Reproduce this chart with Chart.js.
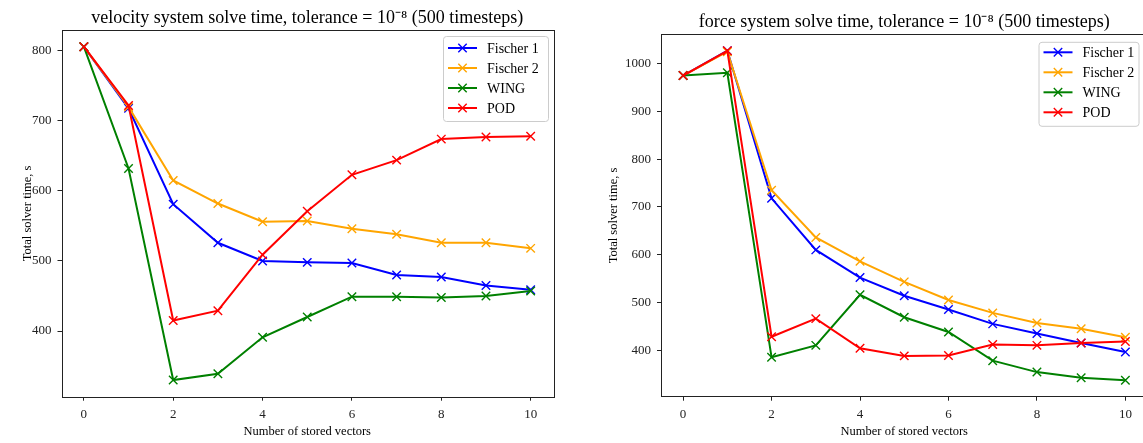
<!DOCTYPE html>
<html>
<head>
<meta charset="utf-8">
<script src="https://cdn.jsdelivr.net/npm/chart.js@4.4.1/dist/chart.umd.min.js"></script>
<style>
    html, body { margin: 0; padding: 0; background: #fff; overflow: hidden; }
    body { width: 1143px; height: 443px; position: relative; }
    .panel { position: absolute; top: 0; }
    #velPanel { left: 0; }
    #forcePanel { left: 580px; }
</style>
</head>
<body>
<div class="panel" id="velPanel"><canvas id="velChart" width="570" height="443"></canvas></div>
<div class="panel" id="forcePanel"><canvas id="forceChart" width="580" height="443"></canvas></div>

<script>
const steps = [0, 1, 2, 3, 4, 5, 6, 7, 8, 9, 10];
const seriesNames = ['Fischer 1', 'Fischer 2', 'WING', 'POD'];

// velocity system, seconds
const velFischer1 = [806, 718, 581, 526, 500, 498, 497, 480, 477, 465, 459];
const velFischer2 = [806, 720, 615, 582, 556, 557, 546, 538, 526, 526, 518];
const velWing = [806, 632, 330, 339, 391, 420, 449, 449, 448, 450, 457];
const velPod = [806, 722, 415, 429, 509, 571, 623, 644, 674, 677, 678];

// force system, seconds
const forceFischer1 = [975, 1027, 718, 610, 552, 514, 485, 455, 435, 415, 396];
const forceFischer2 = [975, 1025, 735, 636, 586, 543, 505, 478, 457, 445, 427];
const forceWing = [975, 981, 385, 410, 516, 469, 438, 378, 354, 342, 337];
const forcePod = [975, 1027, 428, 466, 404, 388, 389, 412, 410, 415, 418];

const xTicks = [0, 2, 4, 6, 8, 10];
const velYTicks = [400, 500, 600, 700, 800];
const forceYTicks = [400, 500, 600, 700, 800, 900, 1000];

const colors = ['#0000ff', '#ffa500', '#008000', '#ff0000'];
const serif = '"Liberation Serif", "Times New Roman", serif';

const toPoints = (ys) => steps.map((x, i) => ({ x: x, y: ys[i] }));

// matplotlib style 5% margin around the data
const padRange = (lists) => {
    const all = lists.flat();
    const lo = Math.min(...all);
    const hi = Math.max(...all);
    const m = (hi - lo) * 0.05;
    return [lo - m, hi + m];
};

// full axes box
const frame = {
    id: 'frame',
    afterDatasetsDraw(chart) {
        const { ctx, chartArea: a } = chart;
        ctx.save();
        ctx.strokeStyle = '#222';
        ctx.lineWidth = 1;
        ctx.strokeRect(Math.round(a.left) + 0.5, Math.round(a.top) + 0.5,
            Math.round(a.right - a.left), Math.round(a.bottom - a.top));
        ctx.restore();
    }
};

// title centred over the axes rather than the canvas
const axesTitle = {
    id: 'axesTitle',
    afterDraw(chart, args, opts) {
        const { ctx, chartArea: a } = chart;
        ctx.save();
        ctx.fillStyle = '#000';
        ctx.font = '18px ' + serif;
        ctx.textAlign = 'center';
        ctx.textBaseline = 'alphabetic';
        ctx.fillText(opts.text, (a.left + a.right) / 2, opts.baseline);
        ctx.restore();
    }
};

// legend drawn inside the axes, upper right
const innerLegend = {
    id: 'innerLegend',
    afterDraw(chart, args, opts) {
        const { ctx, chartArea: a } = chart;
        const x0 = a.right - opts.right - opts.width;
        const y0 = a.top + opts.top;
        ctx.save();
        ctx.beginPath();
        ctx.roundRect(x0 + 0.5, y0 + 0.5, opts.width, opts.height, 3);
        ctx.fillStyle = 'rgba(255,255,255,0.8)';
        ctx.fill();
        ctx.strokeStyle = '#cccccc';
        ctx.lineWidth = 1;
        ctx.stroke();

        chart.data.datasets.forEach((ds, i) => {
            const y = y0 + opts.first + i * opts.gap;
            ctx.strokeStyle = ds.borderColor;
            ctx.lineWidth = 2;
            ctx.beginPath();
            ctx.moveTo(x0 + 5, y);
            ctx.lineTo(x0 + 34, y);
            ctx.stroke();
            const cx = x0 + 19.5;
            const r = 4.2;
            ctx.lineWidth = 1.4;
            ctx.beginPath();
            ctx.moveTo(cx - r, y - r);
            ctx.lineTo(cx + r, y + r);
            ctx.moveTo(cx - r, y + r);
            ctx.lineTo(cx + r, y - r);
            ctx.stroke();
            ctx.fillStyle = '#000';
            ctx.font = '14px ' + serif;
            ctx.textBaseline = 'middle';
            ctx.fillText(ds.label, x0 + 44, y + 1);
        });
        ctx.restore();
    }
};

const makeChart = (canvasId, cfg) => {
    const [yMin, yMax] = padRange(cfg.series);
    const datasets = cfg.series.map((ys, i) => ({
        label: seriesNames[i],
        data: toPoints(ys),
        borderColor: colors[i],
        backgroundColor: colors[i],
        borderWidth: 2,
        pointStyle: 'crossRot',
        pointRadius: 6,
        pointHoverRadius: 6,
        pointBorderWidth: 1.4,
        tension: 0,
        order: cfg.series.length - i
    }));

    return new Chart(document.getElementById(canvasId), {
        type: 'line',
        data: { datasets: datasets },
        options: {
            responsive: false,
            animation: false,
            events: [],
            layout: { padding: { left: 0, right: cfg.padRight, top: cfg.padTop, bottom: 0 } },
            plugins: {
                legend: { display: false },
                tooltip: { enabled: false },
                title: { display: false },
                axesTitle: { text: cfg.title, baseline: cfg.titleBaseline },
                innerLegend: cfg.legend
            },
            scales: {
                x: {
                    type: 'linear',
                    min: -0.5,
                    max: 10.5,
                    afterBuildTicks: (s) => { s.ticks = xTicks.map((v) => ({ value: v })); },
                    afterFit: (s) => { s.height = 46.3; },
                    border: { display: false },
                    grid: { drawOnChartArea: false, drawTicks: true, tickLength: 4, color: '#222' },
                    ticks: { color: '#222', padding: 6, maxRotation: 0, font: { family: serif, size: 13 } },
                    title: {
                        display: true,
                        text: 'Number of stored vectors',
                        color: '#000',
                        font: { family: serif, size: 12.5 },
                        padding: { top: 0, bottom: 4 }
                    }
                },
                y: {
                    type: 'linear',
                    min: yMin,
                    max: yMax,
                    afterBuildTicks: (s) => { s.ticks = cfg.yTicks.map((v) => ({ value: v })); },
                    afterFit: (s) => { s.width = cfg.yWidth; },
                    border: { display: false },
                    grid: { drawOnChartArea: false, drawTicks: true, tickLength: 4, color: '#222' },
                    ticks: {
                        color: '#222',
                        padding: 6,
                        font: { family: serif, size: 13 },
                        callback: (v) => String(v)
                    },
                    title: {
                        display: true,
                        text: 'Total solver time, s',
                        color: '#000',
                        font: { family: serif, size: 12.5 },
                        padding: { top: cfg.yTitlePad, bottom: 0 }
                    }
                }
            }
        },
        plugins: [frame, axesTitle, innerLegend]
    });
};

makeChart('velChart', {
    title: 'velocity system solve time, tolerance = 10⁻⁸ (500 timesteps)',
    series: [velFischer1, velFischer2, velWing, velPod],
    yTicks: velYTicks,
    yWidth: 61.5,
    yTitlePad: 20,
    padRight: 17,
    padTop: 30,
    titleBaseline: 23,
    legend: { right: 5, top: 6, width: 105, height: 85, first: 12, gap: 20 }
});

makeChart('forceChart', {
    title: 'force system solve time, tolerance = 10⁻⁸ (500 timesteps)',
    series: [forceFischer1, forceFischer2, forceWing, forcePod],
    yTicks: forceYTicks,
    yWidth: 81,
    yTitlePad: 26,
    padRight: 12.5,
    padTop: 34.3,
    titleBaseline: 27,
    legend: { right: 9, top: 7.5, width: 100, height: 84, first: 10.5, gap: 20 }
});
</script>
</body>
</html>
